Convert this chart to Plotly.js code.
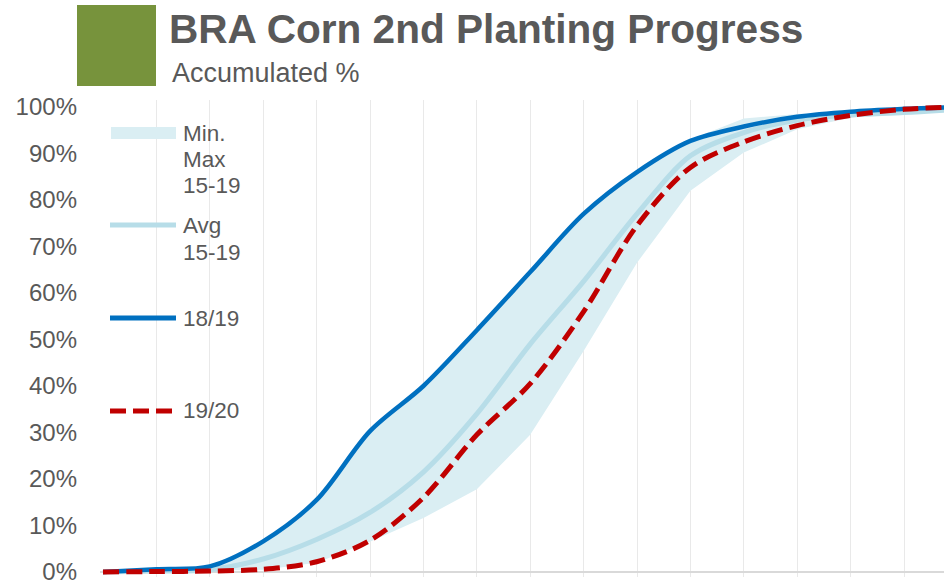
<!DOCTYPE html>
<html>
<head>
<meta charset="utf-8">
<script src="https://cdn.plot.ly/plotly-3.0.1.min.js"></script>
<style>
  html, body { margin: 0; padding: 0; background: #ffffff; }
  #chart { width: 944px; height: 584px; }
</style>
</head>
<body>
<div id="chart"></div>
<script>
// ---- data (accumulated planting progress, %) ----
const weeks = [0, 1, 2, 3, 4, 5, 6, 7, 8, 9, 10, 11, 12, 13, 14, 15, 16];
const minPct = [0, 0.1, 0.2, 0.5, 2, 6.5, 11.6, 17.8, 29.5, 47.5, 66.5, 82, 90.2, 95.2, 97.7, 98.6, 99.3];
const maxPct = [0, 0.6, 1.2, 6.6, 15.5, 30.3, 40, 52, 64.5, 77, 86, 93, 97.5, 98.5, 99.2, 99.7, 100];
const avgPct = [0, 0.2, 0.5, 2.8, 7, 12.8, 21.5, 34, 49, 62.5, 77, 89.5, 94.5, 97.2, 98.3, 98.8, 99.5];
const y1819 = [0, 0.6, 1.2, 6.6, 15.5, 30.3, 40, 52, 64.5, 77, 86, 92.7, 95.8, 97.9, 99, 99.6, 100];
const y1920 = [0, 0.1, 0.2, 0.6, 2.2, 6.8, 16, 29.5, 40.5, 56, 74.5, 87, 92.5, 96, 98.2, 99.5, 100];
const yTicks = [0, 10, 20, 30, 40, 50, 60, 70, 80, 90, 100];
const yTickText = ["0%", "10%", "20%", "30%", "40%", "50%", "60%", "70%", "80%", "90%", "100%"];
const legendNames = [["Min.", "Max", "15-19"], ["Avg", "15-19"], ["18/19"], ["19/20"]];
const titleText = "BRA Corn 2nd Planting Progress";
const subtitleText = "Accumulated %";

// ---- styles ----
const FONT = "Liberation Sans, Arial, Helvetica, sans-serif";
const TXT = "#595959";
const BAND = "#daeef3";
const AVG = "#b7dde8";
const BLUE = "#0070c0";
const RED = "#c00000";
const DASH = "16px,7px";

// plot area geometry (pixels)
const L = 100, R = 0, T = 100, B = 7;
const W = 944 - L - R, H = 584 - T - B;
const px = x => (x - L) / W;
const py = y => (584 - B - y) / H;

const traces = [
  { x: weeks, y: minPct, type: "scatter", mode: "lines", line: { width: 0, color: BAND }, hoverinfo: "skip" },
  { x: weeks, y: maxPct, type: "scatter", mode: "lines", fill: "tonexty", fillcolor: BAND, line: { width: 0, color: BAND }, hoverinfo: "skip" },
  { x: weeks, y: avgPct, type: "scatter", mode: "lines", line: { width: 5, color: AVG, shape: "spline", smoothing: 0.9 } },
  { x: weeks, y: y1819, type: "scatter", mode: "lines", line: { width: 4.5, color: BLUE, shape: "spline", smoothing: 0.9 } },
  { x: weeks, y: y1920, type: "scatter", mode: "lines", line: { width: 5, color: RED, shape: "spline", smoothing: 0.9, dash: DASH } }
];

const ann = [];
ann.push({ text: "<b>" + titleText + "</b>", xref: "paper", yref: "paper", x: px(167), y: py(29), xanchor: "left", yanchor: "middle", showarrow: false, font: { family: FONT, size: 40.6, color: TXT } });
ann.push({ text: subtitleText, xref: "paper", yref: "paper", x: px(170), y: py(73), xanchor: "left", yanchor: "middle", showarrow: false, font: { family: FONT, size: 27, color: TXT } });

const legendLines = [[133, 159, 185], [225, 252], [318], [411]];
legendNames.forEach((lines, i) => {
  lines.forEach((t, j) => {
    ann.push({ text: t, xref: "paper", yref: "paper", x: px(181), y: py(legendLines[i][j]), xanchor: "left", yanchor: "middle", showarrow: false, font: { family: FONT, size: 22.5, color: TXT } });
  });
});

const shapes = [
  { type: "rect", xref: "paper", yref: "paper", x0: px(77), x1: px(156), y0: py(5), y1: py(86), fillcolor: "#77933c", line: { width: 0 } },
  { type: "rect", xref: "paper", yref: "paper", x0: px(111), x1: px(176), y0: py(127), y1: py(139), fillcolor: BAND, line: { width: 0 } },
  { type: "line", xref: "paper", yref: "paper", x0: px(110), x1: px(176), y0: py(225), y1: py(225), line: { width: 5, color: AVG } },
  { type: "line", xref: "paper", yref: "paper", x0: px(110), x1: px(176), y0: py(318), y1: py(318), line: { width: 5, color: BLUE } },
  { type: "line", xref: "paper", yref: "paper", x0: px(110), x1: px(178), y0: py(411), y1: py(411), line: { width: 5, color: RED, dash: DASH } }
];

const layout = {
  width: 944, height: 584,
  margin: { l: L, r: R, t: T, b: B, pad: 0 },
  paper_bgcolor: "#ffffff", plot_bgcolor: "#ffffff",
  showlegend: false,
  hovermode: false,
  xaxis: {
    range: [-3 / 53.4, (944 - 103) / 53.4],
    tickvals: weeks.slice(1),
    showticklabels: false,
    ticks: "",
    showgrid: true, gridcolor: "#e9e9e9", gridwidth: 1,
    zeroline: false, showline: false, fixedrange: true
  },
  yaxis: {
    range: [-(577 - 572) / 4.65, (572 - 100) / 4.65],
    tickvals: yTicks, ticktext: yTickText,
    ticks: "", ticklabelstandoff: 22, ticklabeloverflow: "allow",
    tickfont: { family: FONT, size: 24, color: TXT },
    showgrid: false,
    zeroline: true, zerolinecolor: "#d9d9d9", zerolinewidth: 1.5,
    showline: false, fixedrange: true
  },
  annotations: ann,
  shapes: shapes
};

Plotly.newPlot("chart", traces, layout, { staticPlot: true, displayModeBar: false });
</script>
</body>
</html>
